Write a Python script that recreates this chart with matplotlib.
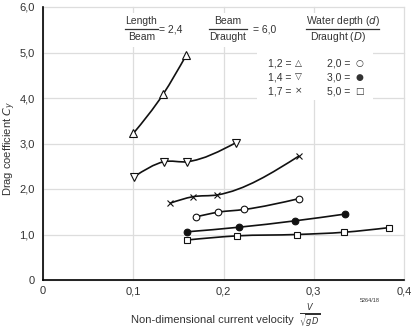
import numpy as np
import matplotlib
matplotlib.use("Agg")
import matplotlib.pyplot as plt
from matplotlib.path import Path
from matplotlib.patches import PathPatch, Rectangle

plt.rcParams['font.family'] = ['Liberation Sans', 'DejaVu Sans']

# ------------------------------- DATA -------------------------------------- #
# d/D = 1,2 (triangle up)
v_12 = [0.100, 0.133, 0.159]
cy_12 = [3.22, 4.08, 4.95]
# d/D = 1,4 (triangle down)
v_14 = [0.101, 0.134, 0.160, 0.214]
cy_14 = [2.27, 2.60, 2.60, 3.02]
# d/D = 1,7 (cross)
v_17 = [0.141, 0.166, 0.193, 0.284]
cy_17 = [1.69, 1.83, 1.87, 2.73]
# d/D = 2,0 (open circle)
v_20 = [0.170, 0.194, 0.223, 0.284]
cy_20 = [1.39, 1.49, 1.55, 1.79]
# d/D = 3,0 (filled circle)
v_30 = [0.160, 0.217, 0.279, 0.335]
cy_30 = [1.06, 1.16, 1.30, 1.45]
# d/D = 5,0 (open square)
v_50 = [0.160, 0.215, 0.281, 0.334, 0.383]
cy_50 = [0.88, 0.97, 1.00, 1.05, 1.15]

x_ticks = [0, 0.1, 0.2, 0.3, 0.4]
x_labels = ["0", "0,1", "0,2", "0,3", "0,4"]
y_ticks = [0, 1, 2, 3, 4, 5, 6]
y_labels = ["0", "1,0", "2,0", "3,0", "4,0", "5,0", "6,0"]

TXT = "#333333"


def smooth_path(xs, ys):
    """Cubic Hermite curve (as Bezier segments) through the given points."""
    x = np.asarray(xs, float)
    y = np.asarray(ys, float)
    h = np.diff(x)
    d = np.diff(y) / h
    n = len(x)
    m = np.zeros(n)
    for k in range(1, n - 1):
        m[k] = (d[k - 1] * h[k] + d[k] * h[k - 1]) / (h[k - 1] + h[k])
    if n > 2:
        m[0] = (3 * d[0] - m[1]) / 2
        m[-1] = (3 * d[-1] - m[-2]) / 2
    else:
        m[:] = d[0]
    verts = [(x[0], y[0])]
    codes = [Path.MOVETO]
    for k in range(n - 1):
        verts += [(x[k] + h[k] / 3, y[k] + m[k] * h[k] / 3),
                  (x[k + 1] - h[k] / 3, y[k + 1] - m[k + 1] * h[k] / 3),
                  (x[k + 1], y[k + 1])]
        codes += [Path.CURVE4] * 3
    return Path(verts, codes)


# ------------------------------ PLOTTING ---------------------------------- #
fig = plt.figure(figsize=(4.12, 3.36), dpi=100)
ax = fig.add_axes([43 / 412, 1 - 280 / 336, 361 / 412, 273 / 336])

ax.set_xlim(0, 0.4)
ax.set_ylim(0, 6)
ax.set_xticks(x_ticks)
ax.set_xticklabels(x_labels)
ax.set_yticks(y_ticks)
ax.set_yticklabels(y_labels)
ax.tick_params(length=0, labelsize=8, labelcolor=TXT)
ax.tick_params(axis="y", pad=6)
ax.tick_params(axis="x", pad=4.5)
ax.grid(True, color="#dddddd", lw=0.9, zorder=0)
for gl in ax.get_xgridlines() + ax.get_ygridlines():
    gl.set_clip_on(False)
ax.set_axisbelow(True)
for s in ["top", "right"]:
    ax.spines[s].set_visible(False)
for s in ["left", "bottom"]:
    ax.spines[s].set_linewidth(1.2)
    ax.spines[s].set_zorder(5)

# white areas behind header text
ax.add_patch(Rectangle((0.083, 5.12), 0.154, 0.75, facecolor="white",
                       edgecolor="none", zorder=1))
ax.add_patch(Rectangle((0.237, 3.95), 0.129, 1.92, facecolor="white",
                       edgecolor="none", zorder=1))

series = [
    (v_12, cy_12, dict(marker="^", mfc="white", ms=5.5)),
    (v_14, cy_14, dict(marker="v", mfc="white", ms=5.5)),
    (v_17, cy_17, dict(marker="x", ms=4.5)),
    (v_20, cy_20, dict(marker="o", mfc="white", ms=4.8)),
    (v_30, cy_30, dict(marker="o", mfc="#111111", ms=4.8)),
    (v_50, cy_50, dict(marker="s", mfc="white", ms=4)),
]
for xs, ys, st in series:
    ax.add_patch(PathPatch(smooth_path(xs, ys), facecolor="none",
                           edgecolor="#111111", lw=1.2, zorder=3))
    ax.plot(xs, ys, ls="none", mec="#111111", mew=0.8, zorder=4, **st)

# header fractions
fs = 7.5
ax.text(0.109, 5.69, "Length", fontsize=fs, color=TXT, ha="center", va="center")
ax.text(0.109, 5.33, "Beam", fontsize=fs, color=TXT, ha="center", va="center")
ax.plot([0.091, 0.127], [5.51, 5.51], color=TXT, lw=0.9)
ax.text(0.129, 5.51, "= 2,4", fontsize=fs, color=TXT, ha="left", va="center")

ax.text(0.2045, 5.69, "Beam", fontsize=fs, color=TXT, ha="center", va="center")
ax.text(0.2045, 5.33, "Draught", fontsize=fs, color=TXT, ha="center", va="center")
ax.plot([0.184, 0.226], [5.51, 5.51], color=TXT, lw=0.9)
ax.text(0.233, 5.51, "= 6,0", fontsize=fs, color=TXT, ha="left", va="center")

ax.text(0.3325, 5.69, "Water depth ($\\mathit{d}$)", fontsize=fs, color=TXT,
        ha="center", va="center")
ax.text(0.327, 5.33, "Draught ($\\mathit{D}$)", fontsize=fs, color=TXT,
        ha="center", va="center")
ax.plot([0.2916, 0.3725], [5.51, 5.51], color=TXT, lw=0.9)

# key
rows = [4.75, 4.45, 4.15]
col1 = [("1,2 =", "\u25B3"), ("1,4 =", "\u25BD"), ("1,7 =", "\u00D7")]
col2 = [("2,0 =", "\u25CB"), ("3,0 =", "\u25CF"), ("5,0 =", "\u25A1")]
for y, (a, b) in zip(rows, col1):
    ax.text(0.2755, y, a, fontsize=fs, color=TXT, ha="right", va="center")
    ax.text(0.2835, y, b, fontsize=6.5, color=TXT, ha="center", va="center",
            family="DejaVu Sans")
for y, (a, b) in zip(rows, col2):
    ax.text(0.3405, y, a, fontsize=fs, color=TXT, ha="right", va="center")
    ax.text(0.3505, y, b, fontsize=6.5, color=TXT, ha="center", va="center",
            family="DejaVu Sans")

ax.set_ylabel("Drag coefficient $C_y$", fontsize=8, color=TXT)
ax.yaxis.set_label_coords(-0.068, 0.483)

# x-axis title: words plus the V/sqrt(gD) fraction beside them
ax.text(0.468, -0.1465, "Non-dimensional current velocity", fontsize=8,
        color=TXT, ha="center", va="center", transform=ax.transAxes)
ax.text(0.7385, -0.132, "$\\frac{V}{\\sqrt{gD}}$", fontsize=8.5,
        color=TXT, ha="center", va="center", transform=ax.transAxes)
fig.text(370 / 412, 1 - 301 / 336, "5264/18", fontsize=4, color=TXT,
         ha="center", va="center")

fig.savefig("out.png", dpi=100)
